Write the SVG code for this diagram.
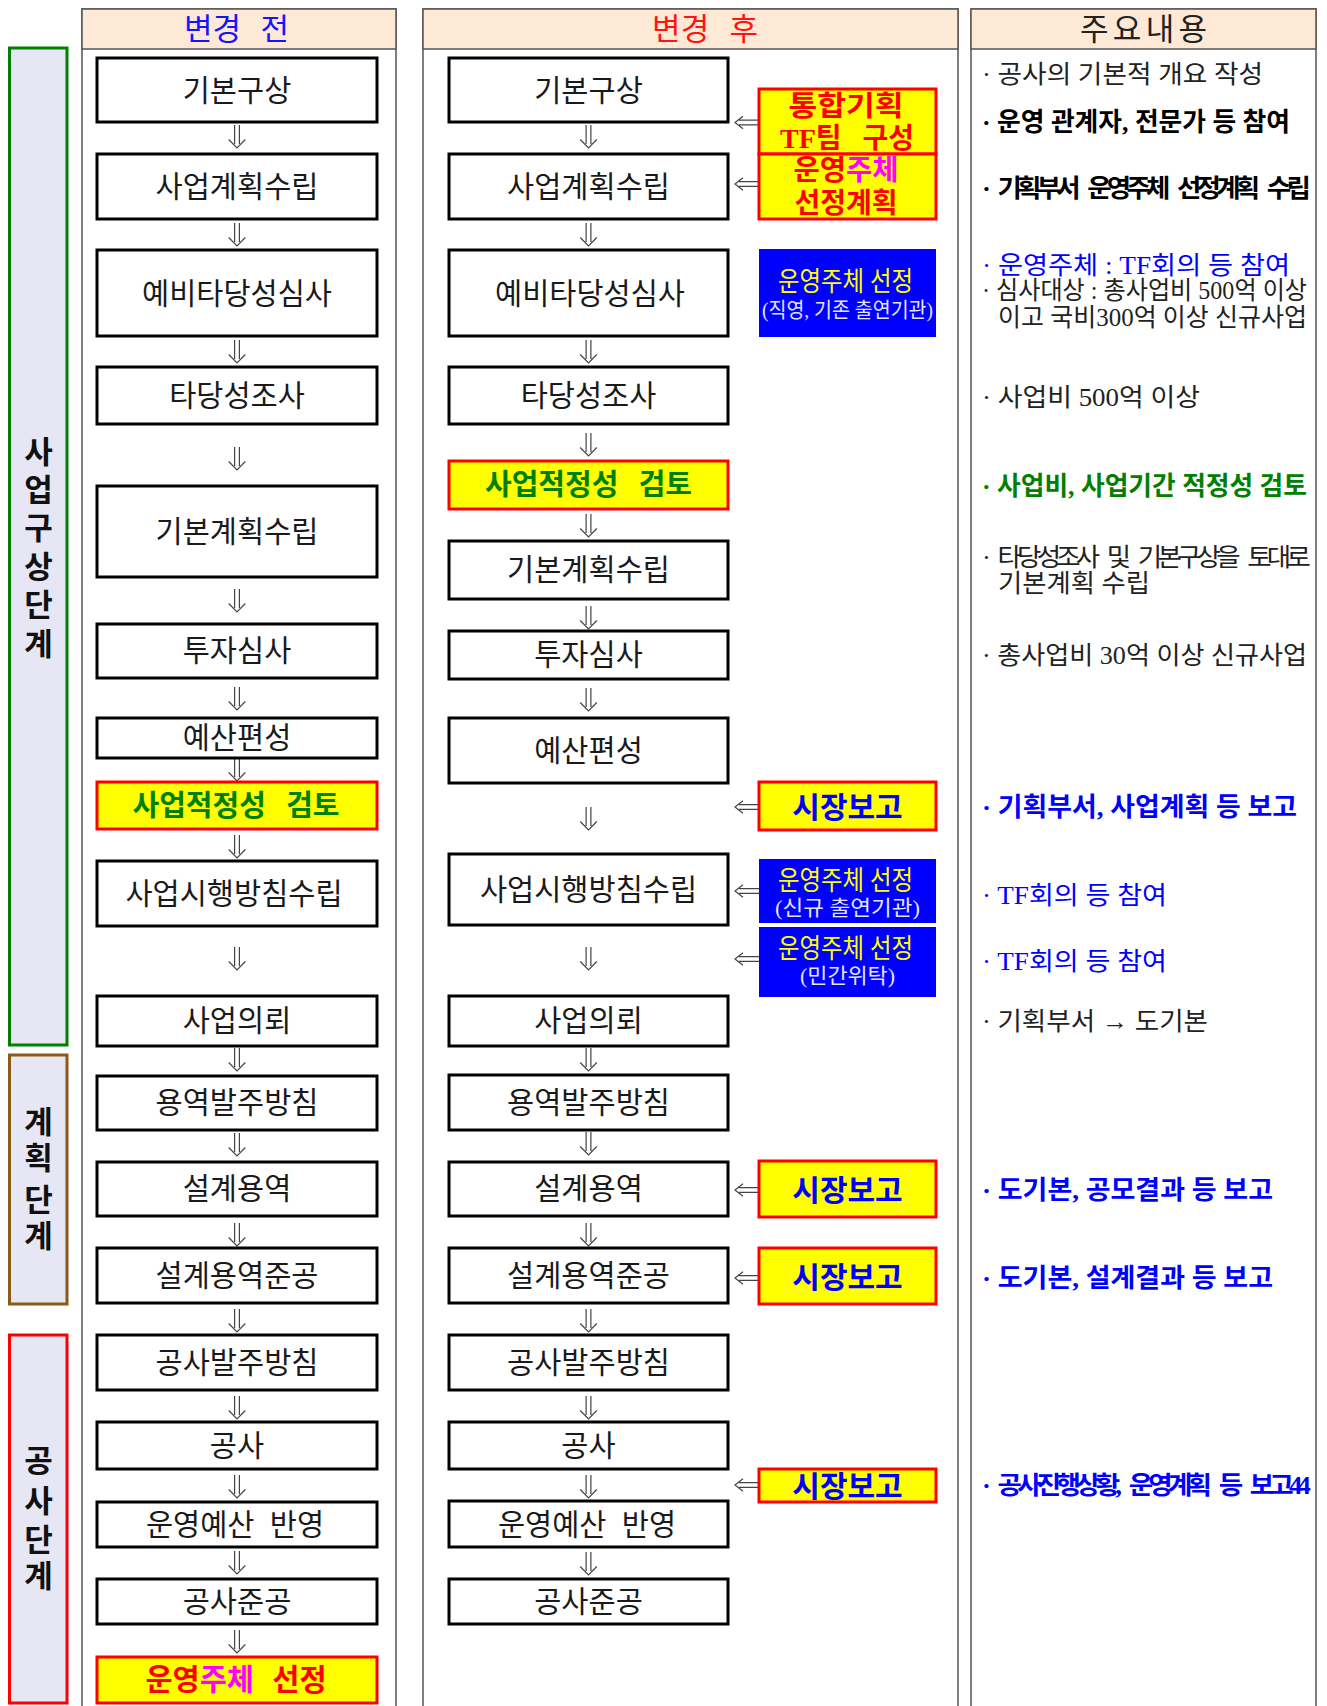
<svg xmlns="http://www.w3.org/2000/svg" xmlns:xlink="http://www.w3.org/1999/xlink" width="1327" height="1706" viewBox="0 0 1327 1706">
<style>
text { font-family: "Liberation Serif", "Noto Sans CJK KR", serif; dominant-baseline: central; }
.col { fill: none; stroke: #555; stroke-width: 1.5; }
.hdr { fill: #FDE9D5; stroke: #555; stroke-width: 1.5; }
.ht { font-size: 31px; text-anchor: middle; }
.stg { fill: #E6E6F5; stroke-width: 3; }
.st { font-size: 31px; font-weight: bold; fill: #111; text-anchor: middle; }
.box { fill: #fff; stroke: #000; stroke-width: 3; }
.hl { fill: #FFFF00; stroke: #FF0000; stroke-width: 3; }
.bl { fill: #0000FF; }
.nt { font-size: 29.5px; fill: #1a1a1a; text-anchor: middle; }
.gt { font-size: 29px; font-weight: bold; fill: #008000; text-anchor: middle; word-spacing: 13px; }
.rt { font-size: 28px; font-weight: bold; fill: #FF0000; text-anchor: middle; }
.mg { fill: #FF00FF; }
.yt { font-size: 27px; fill: #FFFF00; text-anchor: middle; }
.sb { font-size: 21px; fill: #E4E4FF; text-anchor: middle; }
.bt { font-size: 30px; font-weight: bold; fill: #0000FF; text-anchor: middle; }
.c3 { font-size: 25px; fill: #222; }
.c3b { font-size: 26px; font-weight: bold; fill: #000; }
.tight { font-size: 25px; letter-spacing: -4.5px; word-spacing: 9px; }
.blue { fill: #0000FF; }
.green { fill: #008000; }
.arr { fill: none; stroke: #444; stroke-width: 1.2; }
</style>
<defs>
<path id="dn" d="M-2.4,0 V19 M2.4,0 V19 M-8.3,14.5 L0,23 L8.3,14.5"/>
<path id="lf" d="M24,-2.4 H4 M24,2.4 H4 M8,-6.3 L0,0 L8,6.3"/>
</defs>

<!-- stage labels -->
<g id="stage-plan">
<rect class="stg" x="9.5" y="48" width="57.5" height="997" stroke="#008000"/>
<text class="st" x="38.5"><tspan x="38.5" y="452">사</tspan><tspan x="38.5" y="490">업</tspan><tspan x="38.5" y="528">구</tspan><tspan x="38.5" y="567">상</tspan><tspan x="38.5" y="605">단</tspan><tspan x="38.5" y="644">계</tspan></text>
</g>
<g id="stage-design">
<rect class="stg" x="9.5" y="1055" width="57.5" height="249" stroke="#8B5A14"/>
<text class="st" x="38.5"><tspan x="38.5" y="1122">계</tspan><tspan x="38.5" y="1158">획</tspan><tspan x="38.5" y="1200">단</tspan><tspan x="38.5" y="1236">계</tspan></text>
</g>
<g id="stage-build">
<rect class="stg" x="9.5" y="1335" width="57.5" height="368" stroke="#FF0000"/>
<text class="st" x="38.5"><tspan x="38.5" y="1461">공</tspan><tspan x="38.5" y="1501">사</tspan><tspan x="38.5" y="1540">단</tspan><tspan x="38.5" y="1576">계</tspan></text>
</g>

<!-- columns -->
<g id="col-before">
<rect class="col" x="82" y="9" width="314" height="1720"/>
<rect class="hdr" x="82" y="9" width="314" height="40"/>
<text class="ht" x="236.5" y="29" fill="#1414FF" textLength="105" lengthAdjust="spacing" style="word-spacing:12px">변경 전</text>
</g>
<g id="col-after">
<rect class="col" x="423" y="9" width="535" height="1720"/>
<rect class="hdr" x="423" y="9" width="535" height="40"/>
<text class="ht" x="705" y="29" fill="#FF1414" textLength="106" lengthAdjust="spacing" style="word-spacing:12px">변경 후</text>
</g>
<g id="col-notes">
<rect class="col" x="971" y="9" width="345" height="1720"/>
<rect class="hdr" x="971" y="9" width="345" height="40"/>
<text class="ht" x="1143.5" y="29" fill="#222" textLength="127" lengthAdjust="spacing">주요내용</text>
</g>

<!-- connectors -->
<g id="connectors" class="arr">
<use href="#dn" x="237" y="125"/>
<use href="#dn" x="237" y="223"/>
<use href="#dn" x="237" y="340"/>
<use href="#dn" x="237" y="447"/>
<use href="#dn" x="237" y="589"/>
<use href="#dn" x="237" y="687"/>
<use href="#dn" x="237" y="758"/>
<use href="#dn" x="237" y="835"/>
<use href="#dn" x="237" y="947"/>
<use href="#dn" x="237" y="1048"/>
<use href="#dn" x="237" y="1133"/>
<use href="#dn" x="237" y="1223"/>
<use href="#dn" x="237" y="1309"/>
<use href="#dn" x="237" y="1396"/>
<use href="#dn" x="237" y="1475"/>
<use href="#dn" x="237" y="1551"/>
<use href="#dn" x="237" y="1630"/>

<use href="#dn" x="588.5" y="125"/>
<use href="#dn" x="588.5" y="223"/>
<use href="#dn" x="588.5" y="340"/>
<use href="#dn" x="588.5" y="433"/>
<use href="#dn" x="588.5" y="514"/>
<use href="#dn" x="588.5" y="606"/>
<use href="#dn" x="588.5" y="688"/>
<use href="#dn" x="588.5" y="807"/>
<use href="#dn" x="588.5" y="947"/>
<use href="#dn" x="588.5" y="1048"/>
<use href="#dn" x="588.5" y="1132"/>
<use href="#dn" x="588.5" y="1223"/>
<use href="#dn" x="588.5" y="1309"/>
<use href="#dn" x="588.5" y="1396"/>
<use href="#dn" x="588.5" y="1475"/>
<use href="#dn" x="588.5" y="1552"/>

<use href="#lf" x="735" y="122.5"/>
<use href="#lf" x="735" y="184"/>
<use href="#lf" x="735" y="807"/>
<use href="#lf" x="735" y="891"/>
<use href="#lf" x="735" y="959"/>
<use href="#lf" x="735" y="1190"/>
<use href="#lf" x="735" y="1278"/>
<use href="#lf" x="735" y="1485"/>
</g>

<!-- before column nodes -->
<g id="b1"><rect class="box" x="97" y="58" width="280" height="64"/><text class="nt" x="237" y="91">기본구상</text></g>
<g id="b2"><rect class="box" x="97" y="154" width="280" height="65"/><text class="nt" x="237" y="187">사업계획수립</text></g>
<g id="b3"><rect class="box" x="97" y="250" width="280" height="86"/><text class="nt" x="237" y="294">예비타당성심사</text></g>
<g id="b4"><rect class="box" x="97" y="367" width="280" height="57"/><text class="nt" x="237" y="396">타당성조사</text></g>
<g id="b5"><rect class="box" x="97" y="486" width="280" height="91"/><text class="nt" x="237" y="532">기본계획수립</text></g>
<g id="b6"><rect class="box" x="97" y="624" width="280" height="54"/><text class="nt" x="237" y="651">투자심사</text></g>
<g id="b7"><rect class="box" x="97" y="718" width="280" height="40"/><text class="nt" x="237" y="738">예산편성</text></g>
<g id="b8"><rect class="hl" x="97" y="782" width="280" height="47"/><text class="gt" x="236" y="806">사업적정성 검토</text></g>
<g id="b9"><rect class="box" x="97" y="861" width="280" height="65"/><text class="nt" x="234" y="894">사업시행방침수립</text></g>
<g id="b10"><rect class="box" x="97" y="996" width="280" height="50"/><text class="nt" x="237" y="1021">사업의뢰</text></g>
<g id="b11"><rect class="box" x="97" y="1076" width="280" height="54"/><text class="nt" x="237" y="1103">용역발주방침</text></g>
<g id="b12"><rect class="box" x="97" y="1162" width="280" height="54"/><text class="nt" x="237" y="1189">설계용역</text></g>
<g id="b13"><rect class="box" x="97" y="1248" width="280" height="55"/><text class="nt" x="237" y="1276">설계용역준공</text></g>
<g id="b14"><rect class="box" x="97" y="1335" width="280" height="55"/><text class="nt" x="237" y="1363">공사발주방침</text></g>
<g id="b15"><rect class="box" x="97" y="1422" width="280" height="47"/><text class="nt" x="237" y="1446">공사</text></g>
<g id="b16"><rect class="box" x="97" y="1502" width="280" height="45"/><text class="nt" x="235" y="1525" style="word-spacing:8px">운영예산 반영</text></g>
<g id="b17"><rect class="box" x="97" y="1579" width="280" height="45"/><text class="nt" x="237" y="1602">공사준공</text></g>
<g id="b18"><rect class="hl" x="97" y="1657" width="280" height="46"/><text class="rt" x="236" y="1680" style="font-size:29.5px;word-spacing:11px">운영<tspan class="mg">주체</tspan> 선정</text></g>

<!-- after column nodes -->
<g id="a1"><rect class="box" x="449" y="58" width="279" height="64"/><text class="nt" x="588.5" y="91">기본구상</text></g>
<g id="a2"><rect class="box" x="449" y="154" width="279" height="65"/><text class="nt" x="588.5" y="187">사업계획수립</text></g>
<g id="a3"><rect class="box" x="449" y="250" width="279" height="86"/><text class="nt" x="590" y="294">예비타당성심사</text></g>
<g id="a4"><rect class="box" x="449" y="367" width="279" height="57"/><text class="nt" x="588.5" y="396">타당성조사</text></g>
<g id="a5"><rect class="hl" x="449" y="461" width="279" height="48"/><text class="gt" x="588.5" y="485">사업적정성 검토</text></g>
<g id="a6"><rect class="box" x="449" y="541" width="279" height="58"/><text class="nt" x="588.5" y="570">기본계획수립</text></g>
<g id="a7"><rect class="box" x="449" y="631" width="279" height="48"/><text class="nt" x="588.5" y="655">투자심사</text></g>
<g id="a8"><rect class="box" x="449" y="718" width="279" height="65"/><text class="nt" x="588.5" y="751">예산편성</text></g>
<g id="a9"><rect class="box" x="449" y="854" width="279" height="71"/><text class="nt" x="588.5" y="890">사업시행방침수립</text></g>
<g id="a10"><rect class="box" x="449" y="996" width="279" height="50"/><text class="nt" x="588.5" y="1021">사업의뢰</text></g>
<g id="a11"><rect class="box" x="449" y="1075" width="279" height="55"/><text class="nt" x="588.5" y="1103">용역발주방침</text></g>
<g id="a12"><rect class="box" x="449" y="1162" width="279" height="54"/><text class="nt" x="588.5" y="1189">설계용역</text></g>
<g id="a13"><rect class="box" x="449" y="1248" width="279" height="55"/><text class="nt" x="588.5" y="1276">설계용역준공</text></g>
<g id="a14"><rect class="box" x="449" y="1335" width="279" height="55"/><text class="nt" x="588.5" y="1363">공사발주방침</text></g>
<g id="a15"><rect class="box" x="449" y="1422" width="279" height="47"/><text class="nt" x="588.5" y="1446">공사</text></g>
<g id="a16"><rect class="box" x="449" y="1501" width="279" height="46"/><text class="nt" x="587" y="1525" style="word-spacing:8px">운영예산 반영</text></g>
<g id="a17"><rect class="box" x="449" y="1579" width="279" height="45"/><text class="nt" x="588.5" y="1602">공사준공</text></g>

<!-- side nodes -->
<g id="s1"><rect class="hl" x="759" y="89" width="177" height="65"/>
<text class="rt" x="846" y="106" textLength="115" lengthAdjust="spacingAndGlyphs">통합기획</text>
<text class="rt" x="847" y="138" style="word-spacing:14px">TF팀 구성</text></g>
<g id="s2"><rect class="hl" x="759" y="154" width="177" height="65"/>
<text class="rt" x="846" y="170" textLength="105" lengthAdjust="spacingAndGlyphs">운영<tspan class="mg">주체</tspan></text>
<text class="rt" x="846" y="203" textLength="103" lengthAdjust="spacingAndGlyphs">선정계획</text></g>
<g id="s3"><rect class="bl" x="759" y="249" width="177" height="88"/>
<text class="yt" x="845.5" y="282" textLength="135" lengthAdjust="spacingAndGlyphs">운영주체 선정</text>
<text class="sb" x="847.5" y="310" textLength="171" lengthAdjust="spacingAndGlyphs">(직영, 기존 출연기관)</text></g>
<g id="s4"><rect class="hl" x="759" y="782" width="177" height="48"/><text class="bt" x="847.5" y="807">시장보고</text></g>
<g id="s5"><rect class="bl" x="759" y="859" width="177" height="64"/>
<text class="yt" x="845.5" y="881" textLength="135" lengthAdjust="spacingAndGlyphs">운영주체 선정</text>
<text class="sb" x="847.5" y="908" textLength="145" lengthAdjust="spacingAndGlyphs">(신규 출연기관)</text></g>
<g id="s6"><rect class="bl" x="759" y="927" width="177" height="70"/>
<text class="yt" x="845.5" y="949" textLength="135" lengthAdjust="spacingAndGlyphs">운영주체 선정</text>
<text class="sb" x="847.5" y="976" textLength="95" lengthAdjust="spacingAndGlyphs">(민간위탁)</text></g>
<g id="s7"><rect class="hl" x="759" y="1161" width="177" height="56"/><text class="bt" x="847.5" y="1190">시장보고</text></g>
<g id="s8"><rect class="hl" x="759" y="1248" width="177" height="56"/><text class="bt" x="847.5" y="1277">시장보고</text></g>
<g id="s9"><rect class="hl" x="759" y="1469" width="177" height="33"/><text class="bt" x="847.5" y="1486">시장보고</text></g>

<!-- notes column -->
<g id="notes">
<text class="c3" x="982" y="74" textLength="281" lengthAdjust="spacingAndGlyphs">· 공사의 기본적 개요 작성</text>
<text class="c3b" x="982" y="122" textLength="308" lengthAdjust="spacingAndGlyphs">· 운영 관계자, 전문가 등 참여</text>
<text class="c3b tight" x="982" y="188" textLength="324" lengthAdjust="spacingAndGlyphs">· 기획부서 운영주체 선정계획 수립</text>
<text class="c3 blue" x="982" y="265" textLength="308" lengthAdjust="spacingAndGlyphs">· 운영주체 : TF회의 등 참여</text>
<text class="c3" x="982" y="290" textLength="325" lengthAdjust="spacingAndGlyphs">· 심사대상 : 총사업비 500억 이상</text>
<text class="c3" x="998" y="317" textLength="309" lengthAdjust="spacingAndGlyphs">이고 국비300억 이상 신규사업</text>
<text class="c3" x="982" y="397" textLength="218" lengthAdjust="spacingAndGlyphs">· 사업비 500억 이상</text>
<text class="c3b green" x="982" y="486" textLength="325" lengthAdjust="spacingAndGlyphs">· 사업비, 사업기간 적정성 검토</text>
<text class="c3 tight" x="982" y="557" textLength="324" lengthAdjust="spacingAndGlyphs">· 타당성조사 및 기본구상을 토대로</text>
<text class="c3" x="998" y="583" textLength="152" lengthAdjust="spacingAndGlyphs">기본계획 수립</text>
<text class="c3" x="982" y="655" textLength="325" lengthAdjust="spacingAndGlyphs">· 총사업비 30억 이상 신규사업</text>
<text class="c3b blue" x="982" y="807" textLength="315" lengthAdjust="spacingAndGlyphs">· 기획부서, 사업계획 등 보고</text>
<text class="c3 blue" x="982" y="895" textLength="185" lengthAdjust="spacingAndGlyphs">· TF회의 등 참여</text>
<text class="c3 blue" x="982" y="961" textLength="185" lengthAdjust="spacingAndGlyphs">· TF회의 등 참여</text>
<text class="c3" x="982" y="1021" textLength="226" lengthAdjust="spacingAndGlyphs">· 기획부서 → 도기본</text>
<text class="c3b blue" x="982" y="1190" textLength="291" lengthAdjust="spacingAndGlyphs">· 도기본, 공모결과 등 보고</text>
<text class="c3b blue" x="982" y="1278" textLength="291" lengthAdjust="spacingAndGlyphs">· 도기본, 설계결과 등 보고</text>
<text class="c3b blue tight" x="982" y="1485" textLength="324" lengthAdjust="spacingAndGlyphs">· 공사진행상황, 운영계획 등 보고44</text>
</g>
</svg>
